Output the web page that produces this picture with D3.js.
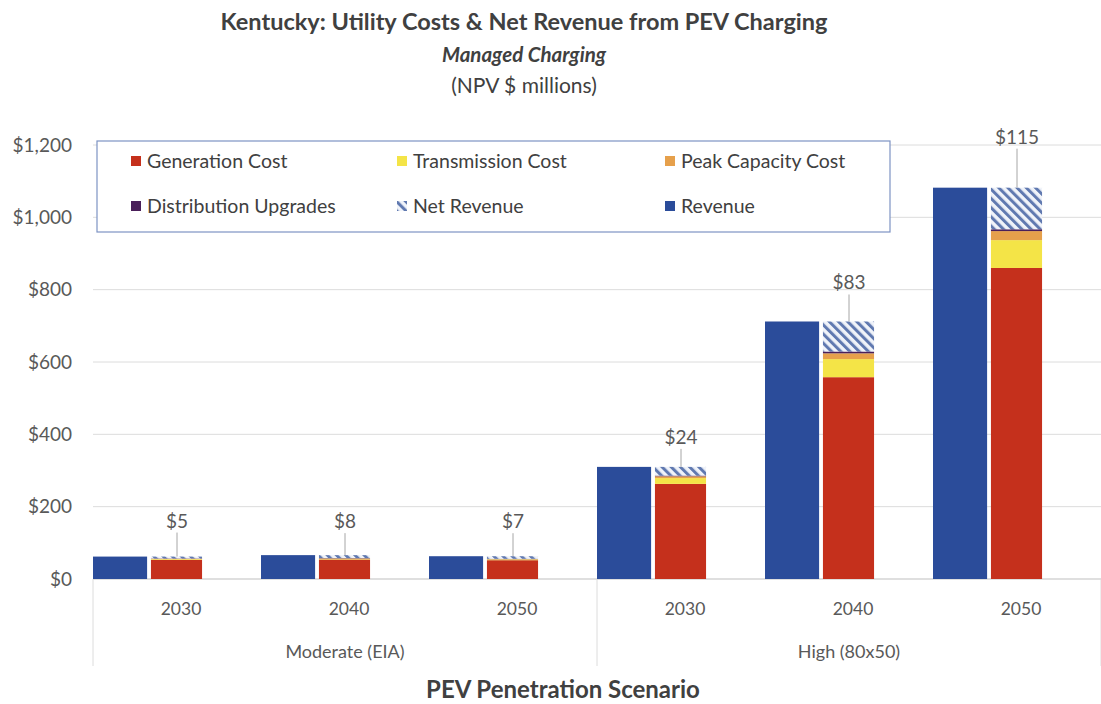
<!DOCTYPE html>
<html><head><meta charset="utf-8">
<script src="https://cdn.jsdelivr.net/npm/d3@7"></script>
<style>body{margin:0;background:#fff}svg{display:block}text{font-family:Lato,"Open Sans",sans-serif}</style>
</head><body>
<svg id="c" width="1101" height="704"></svg>
<script>
const categories = ["2030","2040","2050","2030","2040","2050"];
const groups = ["Moderate (EIA)","High (80x50)"];
const groupOf = [0,0,0,1,1,1];
const revenue = [62,66,63,310,712,1082];
const generation = [53,54,52,263,558,860];
const transmission = [2,2,2,16,50,77];
const peakCapacity = [1,1,1,5,16,25];
const distribution = [1,1,1,2,5,5];
const netRevenue = [5,8,7,24,83,115];
const yTicks = [0,200,400,600,800,1000,1200];
const labelLift = [36,34,35,30,39,51];

const colors = {gen:"#c5301c", trans:"#f4e447", peak:"#e6a04b", dist:"#4a1f5a", rev:"#2b4c9a", hatch:"#6079b0"};

const svg = d3.select("#c");
const defs = svg.append("defs");
const pat = defs.append("pattern").attr("id","hatch").attr("patternUnits","userSpaceOnUse")
  .attr("width",6.5).attr("height",6.5).attr("patternTransform","rotate(-45)");
pat.append("rect").attr("width",6.5).attr("height",6.5).attr("fill","#f0f3f9");
pat.append("rect").attr("x",0).attr("width",3).attr("height",6.5).attr("fill",colors.hatch);

const x = d3.scaleBand().domain(d3.range(categories.length)).range([93,1101]).padding(0);
const sub = d3.scaleBand().domain(["rev","cost","blank"]).range([0,x.bandwidth()]).paddingInner(0.05).paddingOuter(0);
const y = d3.scaleLinear().domain([0,1200]).range([579,145]);

// gridlines
svg.append("g").selectAll("line").data(yTicks).join("line")
  .attr("x1",93).attr("x2",1101).attr("y1",d=>y(d)).attr("y2",d=>y(d))
  .attr("stroke",d=>d===0?"#bfbfbf":"#dcdcdc").attr("stroke-width",1);

// y axis labels
const yAxis = d3.axisLeft(y).tickValues(yTicks).tickFormat(d3.format("$,.0f")).tickSize(0).tickPadding(0);
const ya = svg.append("g").attr("transform","translate(72,0)").call(yAxis);
ya.select(".domain").remove();
ya.selectAll("text").attr("fill","#595959").style("font-size","19px").style("font-family","Lato,sans-serif");

// bars
const data = categories.map((c,i)=>({i, rev:revenue[i], gen:generation[i], trans:transmission[i], peak:peakCapacity[i], dist:distribution[i], net:netRevenue[i]}));
const keys = ["gen","trans","peak","dist","net"];
const stacked = d3.stack().keys(keys)(data);
const g = svg.append("g");
g.selectAll("rect.rev").data(data).join("rect").attr("class","rev")
  .attr("x",d=>x(d.i)+sub("rev")).attr("width",sub.bandwidth())
  .attr("y",d=>y(d.rev)).attr("height",d=>y(0)-y(d.rev)).attr("fill",colors.rev);
stacked.forEach(s=>{
  g.selectAll("rect."+s.key).data(s).join("rect").attr("class",s.key)
    .attr("x",(d,j)=>x(j)+sub("cost")+1).attr("width",sub.bandwidth()-3)
    .attr("y",d=>y(d[1])).attr("height",d=>y(d[0])-y(d[1]))
    .attr("fill",s.key==="net"?"url(#hatch)":colors[s.key]);
});

// data labels with leader lines
data.forEach((d,j)=>{
  const cx = x(j)+sub("cost")+sub.bandwidth()/2;
  const top = y(d.gen+d.trans+d.peak+d.dist+d.net);
  const ly = top - labelLift[j];
  svg.append("line").attr("x1",cx).attr("x2",cx).attr("y1",ly+12).attr("y2",top)
    .attr("stroke","#a6a6a6").attr("stroke-width",1);
  svg.append("text").attr("x",cx).attr("y",ly+7).attr("text-anchor","middle")
    .attr("fill","#595959").style("font-size","19px").text("$"+d.net);
});

// category axis
svg.selectAll("text.yr").data(categories).join("text").attr("class","yr")
  .attr("x",(d,i)=>x(i)+x.bandwidth()/2+4).attr("y",615).attr("text-anchor","middle")
  .attr("fill","#595959").style("font-size","17.5px").text(d=>d);
const gExt = groups.map((gname,k)=>{
  const idx = d3.range(categories.length).filter(i=>groupOf[i]===k);
  return {name:gname, x0:x(idx[0]), x1:x(idx[idx.length-1])+x.bandwidth()};
});
svg.selectAll("text.grp").data(gExt).join("text").attr("class","grp")
  .attr("x",d=>(d.x0+d.x1)/2).attr("y",658).attr("text-anchor","middle")
  .attr("fill","#595959").style("font-size","18px").text(d=>d.name);
const seps = [gExt[0].x0, gExt[1].x0, gExt[1].x1];
svg.selectAll("line.sep").data(seps).join("line").attr("class","sep")
  .attr("x1",d=>d).attr("x2",d=>d).attr("y1",579).attr("y2",666)
  .attr("stroke","#dcdcdc");

// titles
svg.append("text").attr("x",524).attr("y",30).attr("text-anchor","middle").attr("fill","#404040")
  .style("font-size","23.5px").style("font-weight","bold").text("Kentucky: Utility Costs & Net Revenue from PEV Charging");
svg.append("text").attr("x",524).attr("y",62).attr("text-anchor","middle").attr("fill","#404040")
  .style("font-size","20.5px").style("font-weight","bold").style("font-style","italic").text("Managed Charging");
svg.append("text").attr("x",524).attr("y",93).attr("text-anchor","middle").attr("fill","#404040")
  .style("font-size","21px").text("(NPV $ millions)");
svg.append("text").attr("x",563).attr("y",698).attr("text-anchor","middle").attr("fill","#404040")
  .style("font-size","24px").style("font-weight","bold").text("PEV Penetration Scenario");

// legend
const leg = svg.append("g");
leg.append("rect").attr("x",97).attr("y",141).attr("width",793).attr("height",91)
  .attr("fill","#fff").attr("stroke","#7d93c4").attr("stroke-width",1.2);
const legItems = [
  {t:"Generation Cost", f:colors.gen, c:0, r:0},
  {t:"Transmission Cost", f:colors.trans, c:1, r:0},
  {t:"Peak Capacity Cost", f:colors.peak, c:2, r:0},
  {t:"Distribution Upgrades", f:colors.dist, c:0, r:1},
  {t:"Net Revenue", f:"url(#hatch)", c:1, r:1},
  {t:"Revenue", f:colors.rev, c:2, r:1}
];
const colX = [131,397,665];
const rowY = [161,206];
legItems.forEach(it=>{
  leg.append("rect").attr("x",colX[it.c]).attr("y",rowY[it.r]-5).attr("width",10).attr("height",10).attr("fill",it.f);
  leg.append("text").attr("x",colX[it.c]+16).attr("y",rowY[it.r]+7).attr("fill","#404040")
    .style("font-size","19.5px").text(it.t);
});
</script>
</body></html>
